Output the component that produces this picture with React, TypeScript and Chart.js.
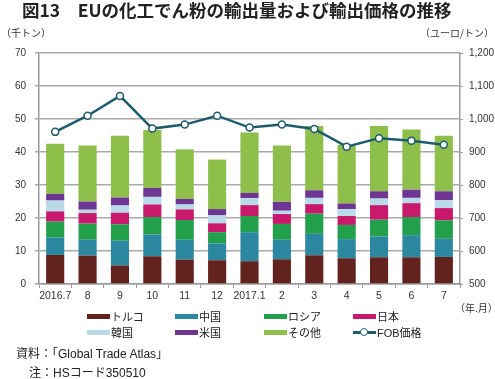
import React, { useEffect, useRef } from "react";
import { Chart, registerables } from "chart.js";
Chart.register(...registerables);

const months = ["2016.7", "8", "9", "10", "11", "12", "2017.1", "2", "3", "4", "5", "6", "7"];
const turkey = [8.8, 8.6, 5.6, 8.4, 7.4, 7.2, 6.9, 7.5, 8.7, 7.8, 8.1, 8.1, 8.2];
const china = [5.3, 4.8, 7.5, 6.6, 6.0, 5.1, 8.8, 5.9, 6.5, 5.8, 6.3, 6.7, 5.5];
const russia = [4.8, 4.9, 5.0, 5.3, 6.0, 3.4, 4.9, 4.8, 6.1, 4.3, 5.1, 5.5, 5.6];
const japan = [3.1, 3.2, 3.5, 3.8, 3.2, 2.7, 3.3, 3.0, 2.9, 2.7, 4.4, 4.2, 3.7];
const korea = [3.3, 1.0, 2.2, 2.3, 1.5, 2.4, 2.1, 1.0, 1.9, 2.1, 2.0, 1.6, 2.4];
const usa = [2.0, 2.5, 2.4, 2.7, 1.7, 1.9, 1.6, 2.7, 2.3, 1.7, 2.2, 2.5, 2.7];
const others = [15.2, 17.0, 18.7, 17.6, 15.0, 15.0, 18.3, 17.1, 19.5, 17.8, 19.8, 18.2, 16.8];
const fobPrice = [961, 1010, 1070, 971, 983, 1010, 974, 983, 970, 916, 942, 934, 922];

const leftTicks = [0, 10, 20, 30, 40, 50, 60, 70];
const rightTicks = [500, 600, 700, 800, 900, 1000, 1100, 1200];

const seriesNames = ["トルコ", "中国", "ロシア", "日本", "韓国", "米国", "その他"];
const seriesColors = ["#62221E", "#2C88A0", "#22A04C", "#C8196C", "#B9DAE8", "#6E3592", "#8FBF4B"];
const lineName = "FOB価格";
const lineColor = "#1E5B6E";

const JP = '"Noto Sans CJK JP", sans-serif';
const LAT = '"Liberation Sans", Arial, sans-serif';
const MIX = '"Liberation Sans", "Noto Sans CJK JP", sans-serif';

export default function App() {
  const ref = useRef<HTMLCanvasElement | null>(null);
  useEffect(() => {
    document.body.style.margin = "0";
    const values = [turkey, china, russia, japan, korea, usa, others];
    const barSets = values.map((d, i) => ({
      type: "bar" as const,
      label: seriesNames[i],
      data: d,
      backgroundColor: seriesColors[i],
      borderWidth: 0,
      yAxisID: "y",
      stack: "s",
      order: 2,
      categoryPercentage: 1,
      barPercentage: 0.56,
    }));
    const chart = new Chart(ref.current!, {
      type: "bar",
      data: {
        labels: months,
        datasets: [
          ...barSets,
          {
            type: "line" as const,
            label: lineName,
            data: fobPrice,
            yAxisID: "y1",
            borderColor: lineColor,
            borderWidth: 2.5,
            pointRadius: 3.5,
            pointBackgroundColor: "#ffffff",
            pointBorderColor: lineColor,
            pointBorderWidth: 1.5,
            order: 1,
            tension: 0,
          } as any,
        ],
      },
      options: {
        animation: false,
        responsive: false,
        maintainAspectRatio: false,
        layout: { padding: { top: 53, left: 0, right: 0, bottom: 75 } },
        plugins: { legend: { display: false }, tooltip: { enabled: false }, title: { display: false } },
        scales: {
          x: {
            stacked: true,
            offset: true,
            grid: { display: true, drawOnChartArea: false, drawTicks: true, tickLength: 4, color: "#999", offset: true },
            border: { display: true, color: "#999", width: 1.5 },
            ticks: { font: { family: LAT, size: 10.5 }, color: "#333", padding: 2, maxRotation: 0, autoSkip: false },
            afterFit: (s: any) => { s.height = 20; },
          },
          y: {
            stacked: true,
            position: "left",
            min: 0,
            max: 70,
            afterBuildTicks: (s: any) => { s.ticks = leftTicks.map((v) => ({ value: v })); },
            grid: { color: "#AAAAAA", lineWidth: 1.5, tickLength: 4, drawTicks: true },
            border: { display: true, color: "#999", width: 1.5 },
            ticks: { font: { family: LAT, size: 10 }, color: "#333", padding: 9 },
            afterFit: (s: any) => { s.width = 39; },
          },
          y1: {
            position: "right",
            min: 500,
            max: 1200,
            afterBuildTicks: (s: any) => { s.ticks = rightTicks.map((v) => ({ value: v })); },
            grid: { drawOnChartArea: false, tickLength: 3, color: "#999", drawTicks: true },
            border: { display: true, color: "#999", width: 1.5 },
            ticks: {
              font: { family: LAT, size: 10 },
              color: "#333",
              padding: 6,
              callback: (v: any) => Number(v).toLocaleString("en-US"),
            },
            afterFit: (s: any) => { s.width = 35; },
          },
        },
      },
    });
    return () => chart.destroy();
  }, []);

  const legendItems = [
    { name: seriesNames[0], color: seriesColors[0] },
    { name: seriesNames[1], color: seriesColors[1] },
    { name: seriesNames[2], color: seriesColors[2] },
    { name: seriesNames[3], color: seriesColors[3] },
    { name: seriesNames[4], color: seriesColors[4] },
    { name: seriesNames[5], color: seriesColors[5] },
    { name: seriesNames[6], color: seriesColors[6] },
    { name: lineName, color: lineColor, line: true },
  ];
  const colX = [87, 175, 264, 353];
  const rowY = [316, 332];

  return (
    <div style={{ position: "absolute", left: 0, top: 0, width: 495, height: 379, background: "#fff", overflow: "hidden" }}>
      <canvas ref={ref} width={495} height={379} style={{ position: "absolute", left: 0, top: 0, width: 495, height: 379 }} />
      <div style={{ position: "absolute", left: 22, top: 0, fontFamily: JP, fontWeight: 700, fontSize: 17.5, lineHeight: "20px", color: "#222", whiteSpace: "nowrap" }}>
        図13　EUの化工でん粉の輸出量および輸出価格の推移
      </div>
      <div style={{ position: "absolute", left: 1, top: 26, fontFamily: JP, fontSize: 10, lineHeight: "14px", color: "#333", whiteSpace: "nowrap" }}>（千トン）</div>
      <div style={{ position: "absolute", right: 1, top: 26, fontFamily: JP, fontSize: 10, lineHeight: "14px", color: "#333", whiteSpace: "nowrap" }}>（ユーロ/トン）</div>
      <div style={{ position: "absolute", left: 455, top: 301, fontFamily: JP, fontSize: 10, lineHeight: "14px", color: "#333", whiteSpace: "nowrap" }}>（年.月）</div>
      {legendItems.map((it, i) => {
        const x = colX[i % 4];
        const y = rowY[Math.floor(i / 4)];
        return (
          <div key={i} style={{ position: "absolute", left: x, top: y - 7, height: 14, display: "flex", alignItems: "center", whiteSpace: "nowrap" }}>
            {it.line ? (
              <div style={{ position: "relative", width: 23, height: 10 }}>
                <div style={{ position: "absolute", left: 0, top: 4, width: 23, height: 2.5, background: it.color }} />
                <div style={{ position: "absolute", left: 7, top: 1, width: 6, height: 6, borderRadius: "50%", background: "#fff", border: `1.5px solid ${it.color}` }} />
              </div>
            ) : (
              <div style={{ width: 23, height: 5, background: it.color }} />
            )}
            <span style={{ fontFamily: MIX, fontSize: 11, color: "#222", marginLeft: 1 }}>{it.name}</span>
          </div>
        );
      })}
      <div style={{ position: "absolute", left: 16, top: 346, fontFamily: MIX, fontSize: 12, lineHeight: "16px", color: "#222", whiteSpace: "nowrap" }}>資料：「Global Trade Atlas」</div>
      <div style={{ position: "absolute", left: 29, top: 365, fontFamily: MIX, fontSize: 12, lineHeight: "16px", color: "#222", whiteSpace: "nowrap" }}>注：HSコード350510</div>
    </div>
  );
}
